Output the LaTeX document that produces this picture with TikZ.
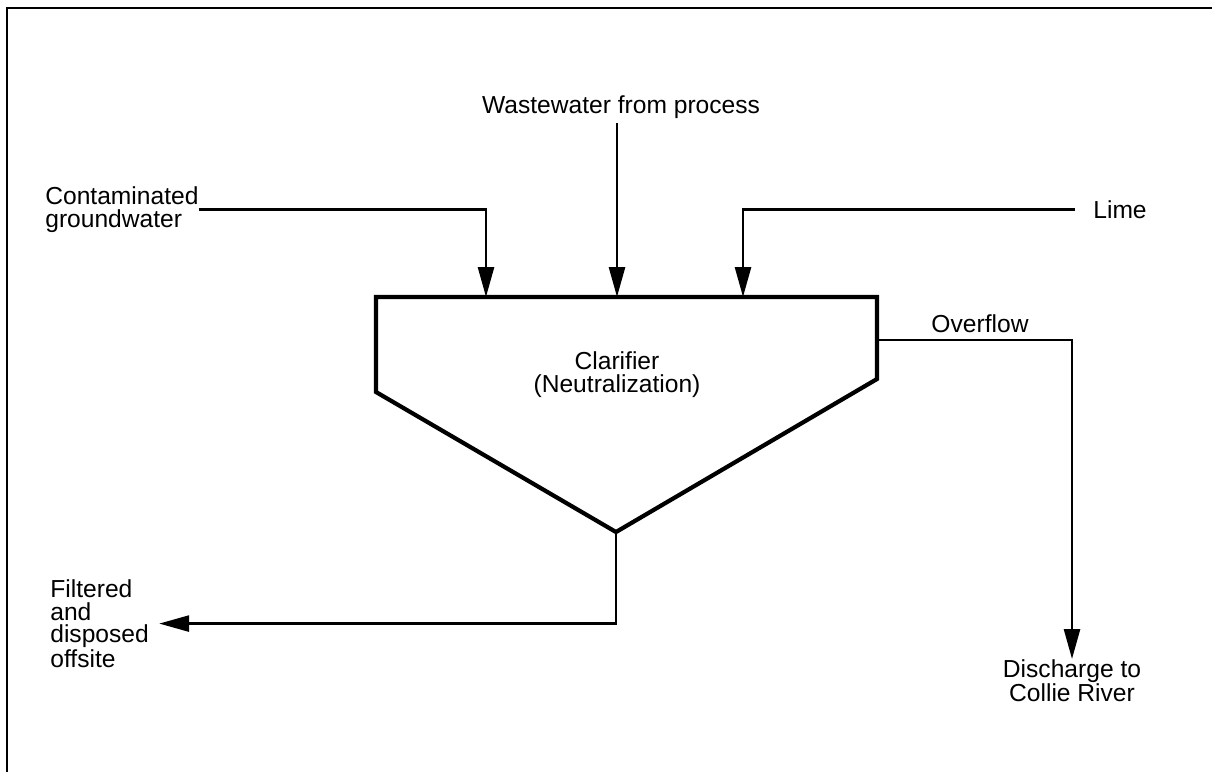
\documentclass[tikz,border=0pt]{standalone}
\usepackage{fontspec}
\setmainfont{Liberation Sans}
\usetikzlibrary{arrows.meta}

\begin{document}
\begin{tikzpicture}[x=0.02cm,y=-0.02cm,
  lbl/.style={inner sep=0pt,font=\fontsize{14}{13}\selectfont},
  pipe/.style={line width=1.5pt},
  flow/.style={pipe,-{Triangle[length=0.6cm,width=0.32cm]}},
  tank/.style={line width=2.4pt,line join=miter}]
\useasboundingbox(0,0)rectangle(1212,772);
\path[pipe,draw](7,772)--(7,8)--(1212,8);
% clarifier
\coordinate(tl) at (376,297);
\coordinate(tr) at (877,297);
\coordinate(rb) at (877,379);
\coordinate(apex) at (616,532);
\coordinate(lb) at (376,392);
\path[tank,draw](tl)--(tr)--(rb)--(apex)--(lb)--cycle;
\coordinate(in1) at (486,297);
\coordinate(in2) at (617,297);
\coordinate(in3) at (743,297);
\coordinate(ofl) at (877,340);
% labels
\node[lbl,anchor=base](ww) at (621,113){Wastewater from process};
\node[lbl,anchor=north west,align=left](gw) at (45,186){Contaminated\\groundwater};
\node[lbl,anchor=base west](lime) at (1093,218){Lime};
\node[lbl,anchor=north,align=center](clar) at (617,351){Clarifier\\(Neutralization)};
\node[lbl,anchor=base](over) at (980,332){Overflow};
\node[lbl,anchor=north,align=center](dis) at (1072,659){Discharge to\\Collie River};
\node[lbl,anchor=north west,align=left](filt) at (50,579){Filtered\\and\\disposed\\offsite};
% flows
\path[flow,draw](gw.east)-|(in1);
\path[flow,draw,shorten <=0.1cm](ww.south-|in2)--(in2);
\path[flow,draw,shorten <=0.36cm](lime.west)-|(in3);
\path[flow,draw](ofl)-|(dis.north);
\path[flow,draw,shorten >=0.2cm](apex)|-(filt.east);
\end{tikzpicture}
\end{document}
